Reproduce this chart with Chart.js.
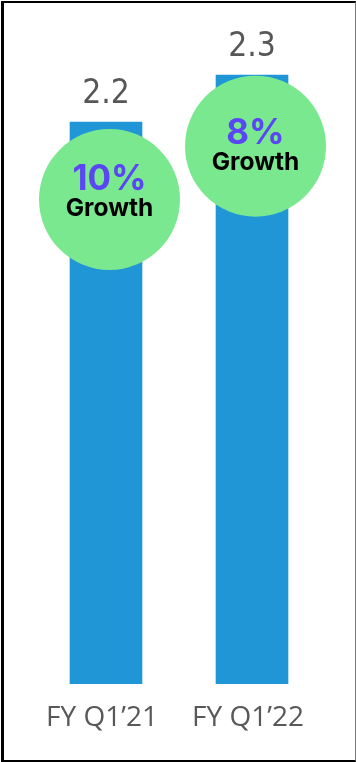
<!DOCTYPE html>
<html>
<head>
<meta charset="utf-8">
<script src="https://cdn.jsdelivr.net/npm/chart.js@4/dist/chart.umd.min.js"></script>
<style>
  html, body { margin: 0; padding: 0; background: #fff; }
  #wrap { position: relative; width: 356px; height: 762px; overflow: hidden; }
  #c { position: absolute; left: 0; top: 0; }
  #frame { position: absolute; left: 1px; top: 1px; width: 355px; height: 761px; box-sizing: border-box;
           border-left: 3px solid #000; border-top: 2px solid #000; border-right: 1px solid #777; border-bottom: 2px solid #000; pointer-events: none; }
</style>
</head>
<body>
<div id="wrap">
  <canvas id="c" width="356" height="762"></canvas>
  <div id="frame"></div>
</div>
<script>
const categories = ["FY Q1\u201921", "FY Q1\u201922"];
const revenue = [2.16, 2.34];
const valueLabels = ["2.2", "2.3"];
const growthPct = [10, 8];

const growthBubbles = {
  id: 'growthBubbles',
  afterDatasetsDraw(chart, args, o) {
    const ctx = chart.ctx;
    const meta = chart.getDatasetMeta(0);
    meta.data.forEach((bar, i) => {
      const cx = bar.x + o.dx;
      ctx.save();
      // value label above bar (slightly tall lettering as in the source)
      ctx.save();
      ctx.translate(bar.x, bar.y - 19);
      ctx.scale(1, 1.12);
      ctx.fillStyle = '#575757';
      ctx.font = '30px "DejaVu Sans"';
      ctx.textAlign = 'center';
      ctx.textBaseline = 'alphabetic';
      ctx.fillText(valueLabels[i], 0, 0);
      ctx.restore();
      // bubble
      ctx.beginPath();
      ctx.arc(cx, bar.y + o.dy[i], o.r, 0, Math.PI * 2);
      ctx.fillStyle = '#7ae88f';
      ctx.fill();
      ctx.textAlign = 'center';
      ctx.textBaseline = 'alphabetic';
      ctx.fillStyle = '#5a46f4';
      ctx.font = '700 35px Inter';
      ctx.fillText(growthPct[i] + '%', cx, bar.y + 68.5);
      ctx.fillStyle = '#000';
      ctx.font = '700 24.5px Inter';
      ctx.fillText('Growth', cx, bar.y + 94.5);
      ctx.restore();
    });
  }
};

new Chart(document.getElementById('c'), {
  type: 'bar',
  data: {
    labels: categories,
    datasets: [{
      data: revenue,
      backgroundColor: '#2196d6',
      borderWidth: 0,
      barThickness: 72
    }]
  },
  options: {
    responsive: false,
    animation: false,
    devicePixelRatio: 1,
    layout: { padding: { top: 7.5, left: 33, right: 31, bottom: 0 } },
    plugins: {
      legend: { display: false },
      tooltip: { enabled: false },
      growthBubbles: { dx: 3.5, dy: [77.5, 71], r: 70.5 }
    },
    scales: {
      y: { display: false, min: 0, max: 2.6 },
      x: {
        grid: { display: false, drawTicks: false },
        border: { display: false },
        ticks: {
          color: '#595959',
          font: { family: '"Open Sans"', size: 28 },
          padding: 17,
          labelOffset: -4,
          maxRotation: 0
        },
        afterFit(scale) { scale.height = 78; }
      }
    }
  },
  plugins: [growthBubbles]
});
</script>
</body>
</html>
